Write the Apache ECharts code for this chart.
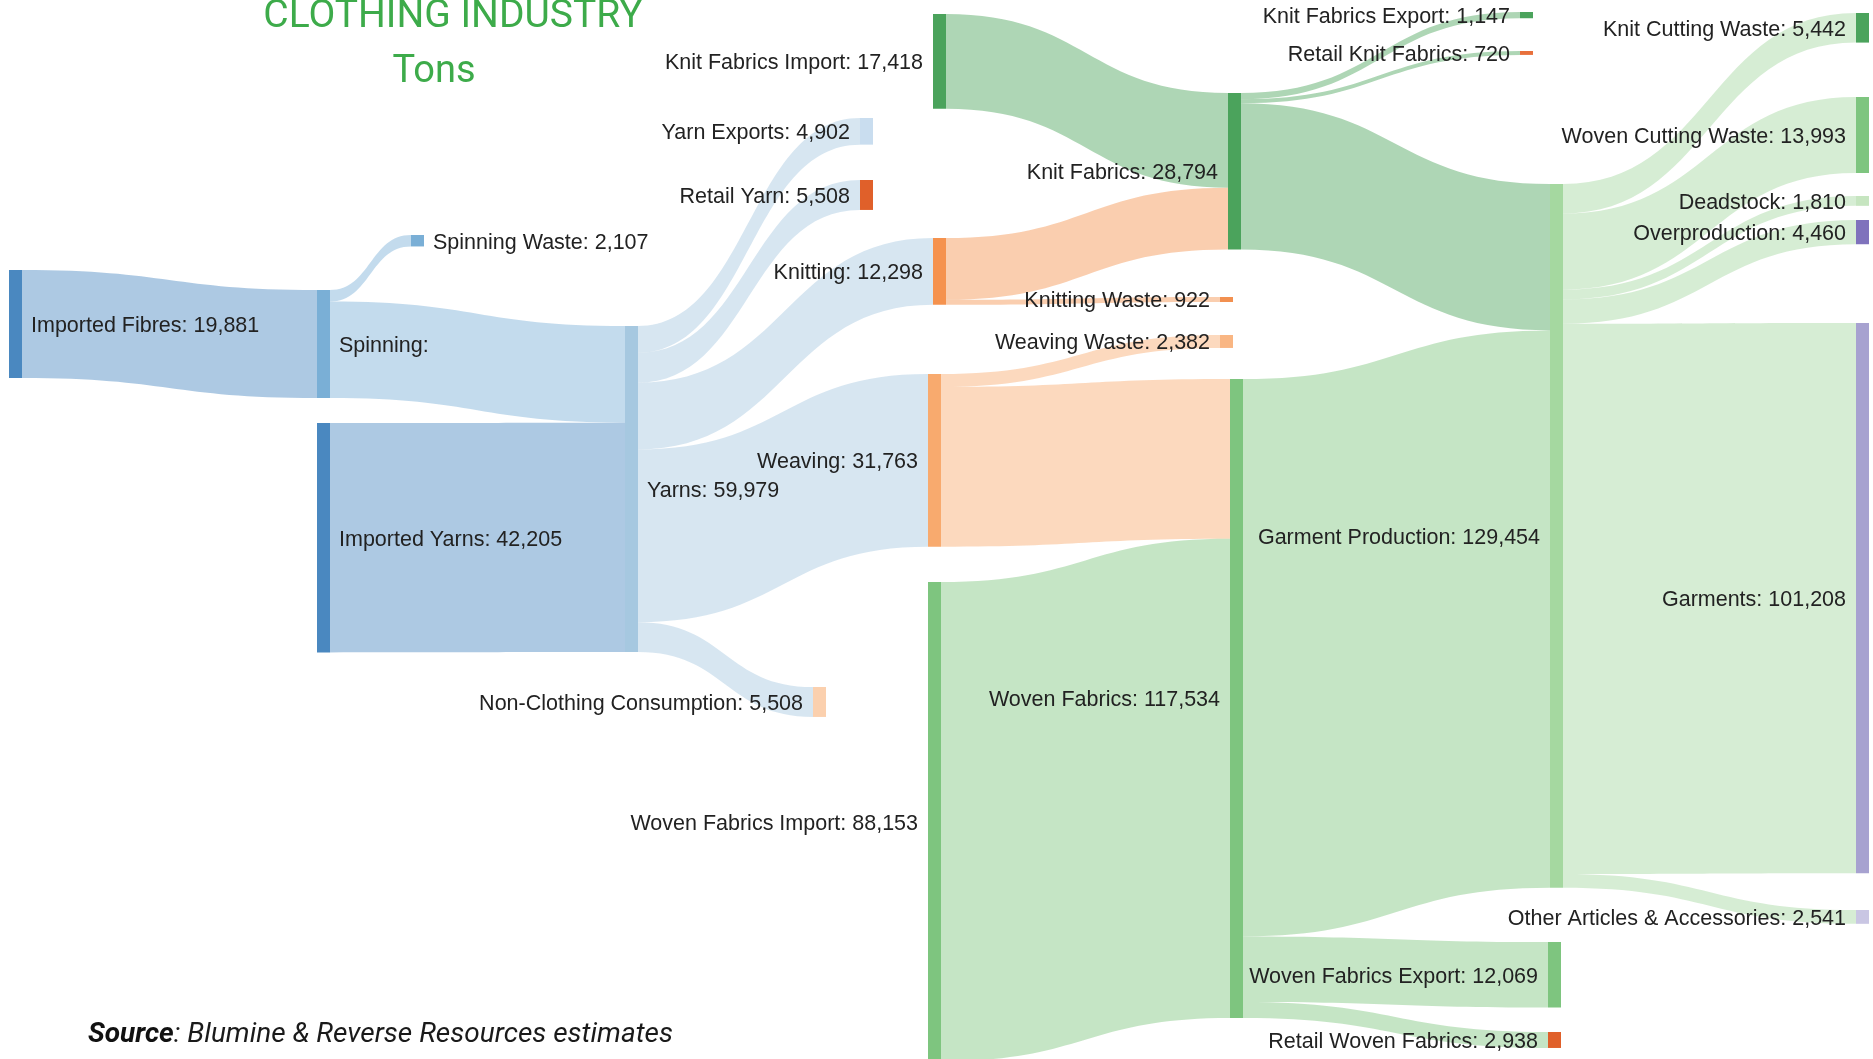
<!DOCTYPE html>
<html><head><meta charset="utf-8">
<script src="https://cdn.jsdelivr.net/npm/echarts@6/dist/echarts.min.js"></script>
<style>html,body{margin:0;padding:0;background:#fff}#c{width:1873px;height:1059px}</style>
</head><body><div id="c"></div>
<script>
// ---------------- DATA ----------------
const nodeNames = [
  'Imported Fibres',
  'Spinning', 'Imported Yarns',
  'Spinning Waste', 'Yarns',
  'Knit Fabrics Import', 'Yarn Exports', 'Retail Yarn', 'Knitting', 'Weaving', 'Non-Clothing Consumption', 'Woven Fabrics Import',
  'Knit Fabrics', 'Knitting Waste', 'Weaving Waste', 'Woven Fabrics',
  'Knit Fabrics Export', 'Retail Knit Fabrics', 'Garment Production', 'Woven Fabrics Export', 'Retail Woven Fabrics',
  'Knit Cutting Waste', 'Woven Cutting Waste', 'Deadstock', 'Overproduction', 'Garments', 'Other Articles & Accessories'
];
const linkSources = [
  'Imported Fibres', 'Spinning', 'Spinning', 'Imported Yarns',
  'Yarns', 'Yarns', 'Yarns', 'Yarns', 'Yarns',
  'Knit Fabrics Import', 'Knitting', 'Knitting', 'Weaving', 'Weaving', 'Woven Fabrics Import',
  'Knit Fabrics', 'Knit Fabrics', 'Knit Fabrics',
  'Woven Fabrics', 'Woven Fabrics', 'Woven Fabrics',
  'Garment Production', 'Garment Production', 'Garment Production', 'Garment Production', 'Garment Production', 'Garment Production'
];
const linkTargets = [
  'Spinning', 'Spinning Waste', 'Yarns', 'Yarns',
  'Yarn Exports', 'Retail Yarn', 'Knitting', 'Weaving', 'Non-Clothing Consumption',
  'Knit Fabrics', 'Knit Fabrics', 'Knitting Waste', 'Weaving Waste', 'Woven Fabrics', 'Woven Fabrics',
  'Knit Fabrics Export', 'Retail Knit Fabrics', 'Garment Production',
  'Garment Production', 'Woven Fabrics Export', 'Retail Woven Fabrics',
  'Knit Cutting Waste', 'Woven Cutting Waste', 'Deadstock', 'Overproduction', 'Garments', 'Other Articles & Accessories'
];
const linkValues = [
  19881, 2107, 17774, 42205,
  4902, 5508, 12298, 31763, 5508,
  17418, 11376, 922, 2382, 29381, 88153,
  1147, 720, 26927,
  102527, 12069, 2938,
  5442, 13993, 1810, 4460, 101208, 2541
];
const valueHiddenNodes = ['Spinning'];
const titleLine1 = 'CLOTHING INDUSTRY';
const titleLine2 = 'Tons';
const sourceBold = 'Source';
const sourceRest = ': Blumine & Reverse Resources estimates';

// ---------------- LAYOUT / STYLE ----------------
// node placement in px inside the sankey box: [left, top, column, label side]
const W = 1873, H = 960;
const placement = {
  'Imported Fibres': [9, 270, 0, 'right'],
  'Spinning': [317, 290, 1, 'right'],
  'Imported Yarns': [317, 423, 1, 'right'],
  'Spinning Waste': [411, 235, 2, 'right'],
  'Yarns': [625, 326, 2, 'right'],
  'Knit Fabrics Import': [933, 14, 3, 'left'],
  'Yarn Exports': [860, 118, 3, 'left'],
  'Retail Yarn': [860, 180, 3, 'left'],
  'Knitting': [933, 238, 3, 'left'],
  'Weaving': [928, 374, 3, 'left'],
  'Non-Clothing Consumption': [813, 687, 3, 'left'],
  'Woven Fabrics Import': [928, 582, 3, 'left'],
  'Knit Fabrics': [1228, 93, 4, 'left'],
  'Knitting Waste': [1220, 297, 4, 'left'],
  'Weaving Waste': [1220, 335, 4, 'left'],
  'Woven Fabrics': [1230, 379, 4, 'left'],
  'Knit Fabrics Export': [1520, 12, 5, 'left'],
  'Retail Knit Fabrics': [1520, 51, 5, 'left'],
  'Garment Production': [1550, 184, 5, 'left'],
  'Woven Fabrics Export': [1548, 942, 5, 'left'],
  'Retail Woven Fabrics': [1548, 1032, 5, 'left'],
  'Knit Cutting Waste': [1856, 13, 6, 'left'],
  'Woven Cutting Waste': [1856, 97, 6, 'left'],
  'Deadstock': [1856, 196, 6, 'left'],
  'Overproduction': [1856, 220, 6, 'left'],
  'Garments': [1856, 323, 6, 'left'],
  'Other Articles & Accessories': [1856, 910, 6, 'left']
};
const nodeColor = {
  'Imported Fibres': '#4a88c0', 'Spinning': '#7aafd6', 'Imported Yarns': '#4a88c0',
  'Spinning Waste': '#7aafd6', 'Yarns': '#a6c8e0',
  'Knit Fabrics Import': '#4ba35c', 'Yarn Exports': '#c9ddef', 'Retail Yarn': '#e0602a',
  'Knitting': '#f5924e', 'Weaving': '#f8aa6e', 'Non-Clothing Consumption': '#fbd0ae',
  'Woven Fabrics Import': '#7ec57f',
  'Knit Fabrics': '#4ba35c', 'Knitting Waste': '#f29050', 'Weaving Waste': '#f9b683', 'Woven Fabrics': '#7ec57f',
  'Knit Fabrics Export': '#4ba35c', 'Retail Knit Fabrics': '#e8703c', 'Garment Production': '#a5d8a0',
  'Woven Fabrics Export': '#7ec57f', 'Retail Woven Fabrics': '#e0602a',
  'Knit Cutting Waste': '#4ba35c', 'Woven Cutting Waste': '#7ec57f', 'Deadstock': '#c6e5c0',
  'Overproduction': '#7f72bc', 'Garments': '#a7a2d0', 'Other Articles & Accessories': '#c9c6e3'
};

const fmt = v => Number(v).toLocaleString('en-US');

const nodes = nodeNames.map(n => {
  const p = placement[n];
  return {
    name: n,
    depth: p[2],
    localX: p[0] / W,
    localY: p[1] / H,
    itemStyle: { color: nodeColor[n], borderWidth: 0 },
    label: { position: p[3], distance: p[3] === 'left' ? 10 : 9 }
  };
});
const links = linkValues.map((v, i) => ({ source: linkSources[i], target: linkTargets[i], value: v }));

const chart = echarts.init(document.getElementById('c'), null, { renderer: 'canvas' });
chart.setOption({
  animation: false,
  backgroundColor: '#ffffff',
  graphic: [
    { type: 'text', x: 453, y: 17, z: 100,
      style: { text: titleLine1, fill: '#3dab4a', font: 'normal 39px Roboto', textAlign: 'center', textVerticalAlign: 'middle' } },
    { type: 'text', x: 434, y: 72, z: 100,
      style: { text: titleLine2, fill: '#3dab4a', font: 'normal 38px Roboto', textAlign: 'center', textVerticalAlign: 'middle' } },
    { type: 'text', x: 88, y: 1035, z: 100,
      style: { text: '{b|' + sourceBold + '}' + sourceRest, fill: '#1a1a1a', fontFamily: 'Roboto', fontStyle: 'italic', fontSize: 28,
        textVerticalAlign: 'middle',
        rich: { b: { fontFamily: 'Roboto', fontStyle: 'italic', fontWeight: 'bold', fontSize: 28, fill: '#111' } } } }
  ],
  series: [{
    type: 'sankey',
    left: 0, top: 0, width: W, height: H,
    nodeWidth: 13,
    nodeGap: 10,
    layoutIterations: 0,
    nodeAlign: 'left',
    draggable: false,
    emphasis: { disabled: true },
    label: {
      color: '#222', fontFamily: 'Liberation Sans, Arial, sans-serif', fontSize: 21.5,
      offset: [0, 2],
      formatter: p => valueHiddenNodes.indexOf(p.name) >= 0 ? p.name + ':' : p.name + ': ' + fmt(p.value)
    },
    lineStyle: { color: 'source', opacity: 0.45, curveness: 0.5 },
    data: nodes,
    links: links
  }]
});
</script></body></html>
